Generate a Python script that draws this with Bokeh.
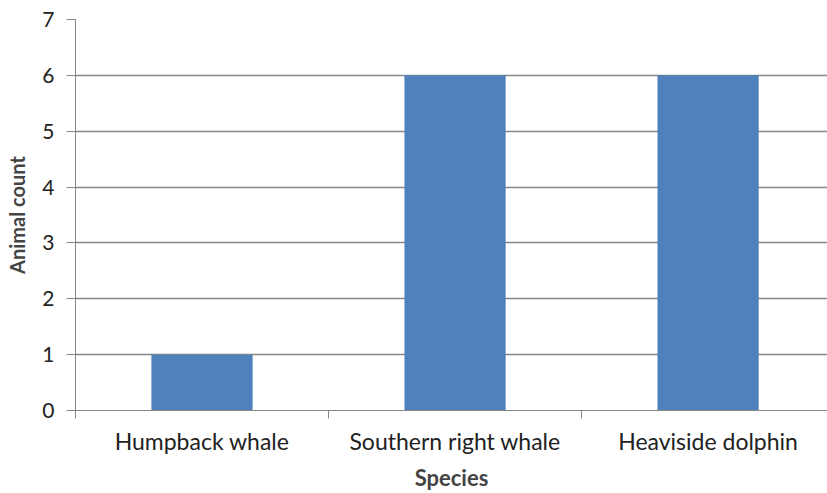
from bokeh.plotting import figure
from bokeh.models import FixedTicker, ColumnDataSource, Range1d
from bokeh.embed import file_html
from bokeh.resources import INLINE

species = ["Humpback whale", "Southern right whale", "Heaviside dolphin"]
counts = [1, 6, 6]
y_ticks = [0, 1, 2, 3, 4, 5, 6, 7]

xpos = [i + 0.5 for i in range(len(species))]
src = ColumnDataSource(dict(x=xpos, top=counts))

FONT = "Lato"
GRAY = "#868686"

p = figure(width=827, height=493, output_backend="svg", toolbar_location=None,
           x_range=Range1d(0, len(species) - 0.028), y_range=Range1d(0, 7),
           min_border_left=75, min_border_right=0, min_border_top=19, min_border_bottom=82)
p.outline_line_color = None
p.background_fill_color = "white"

p.vbar(x="x", top="top", width=0.4, source=src, color="#4F81BD", line_color=None)

# y axis
p.yaxis.ticker = FixedTicker(ticks=y_ticks)
p.yaxis.axis_line_color = GRAY
p.yaxis.major_tick_line_color = GRAY
p.yaxis.major_tick_out = 9
p.yaxis.major_tick_in = 0
p.yaxis.minor_tick_line_color = None
p.yaxis.major_label_text_font = FONT
p.yaxis.major_label_text_font_size = "21px"
p.yaxis.major_label_text_color = "#222222"
p.yaxis.major_label_standoff = 12
p.yaxis.axis_label = "Animal count"
p.yaxis.axis_label_text_font = FONT
p.yaxis.axis_label_text_font_style = "bold"
p.yaxis.axis_label_text_font_size = "20px"
p.yaxis.axis_label_standoff = 10

p.ygrid.grid_line_color = GRAY
p.ygrid.grid_line_width = 1.5
p.xgrid.grid_line_color = None

# x axis
p.xaxis.ticker = FixedTicker(ticks=xpos, minor_ticks=list(range(len(species) + 1)))
p.xaxis.major_label_overrides = {x: s for x, s in zip(xpos, species)}
p.xaxis.axis_line_color = GRAY
p.xaxis.major_tick_line_color = None
p.xaxis.major_tick_out = 0
p.xaxis.major_tick_in = 0
p.xaxis.minor_tick_line_color = GRAY
p.xaxis.minor_tick_out = 8
p.xaxis.minor_tick_in = 0
p.xaxis.major_label_text_font = FONT
p.xaxis.major_label_text_font_size = "23px"
p.xaxis.major_label_text_color = "#222222"
p.xaxis.major_label_standoff = 8
p.xaxis.axis_label = "Species"
p.xaxis.axis_label_text_font = FONT
p.xaxis.axis_label_text_font_style = "bold"
p.xaxis.axis_label_text_font_size = "22px"
p.xaxis.axis_label_standoff = 6

open("out.html", "w").write(file_html(p, INLINE))
